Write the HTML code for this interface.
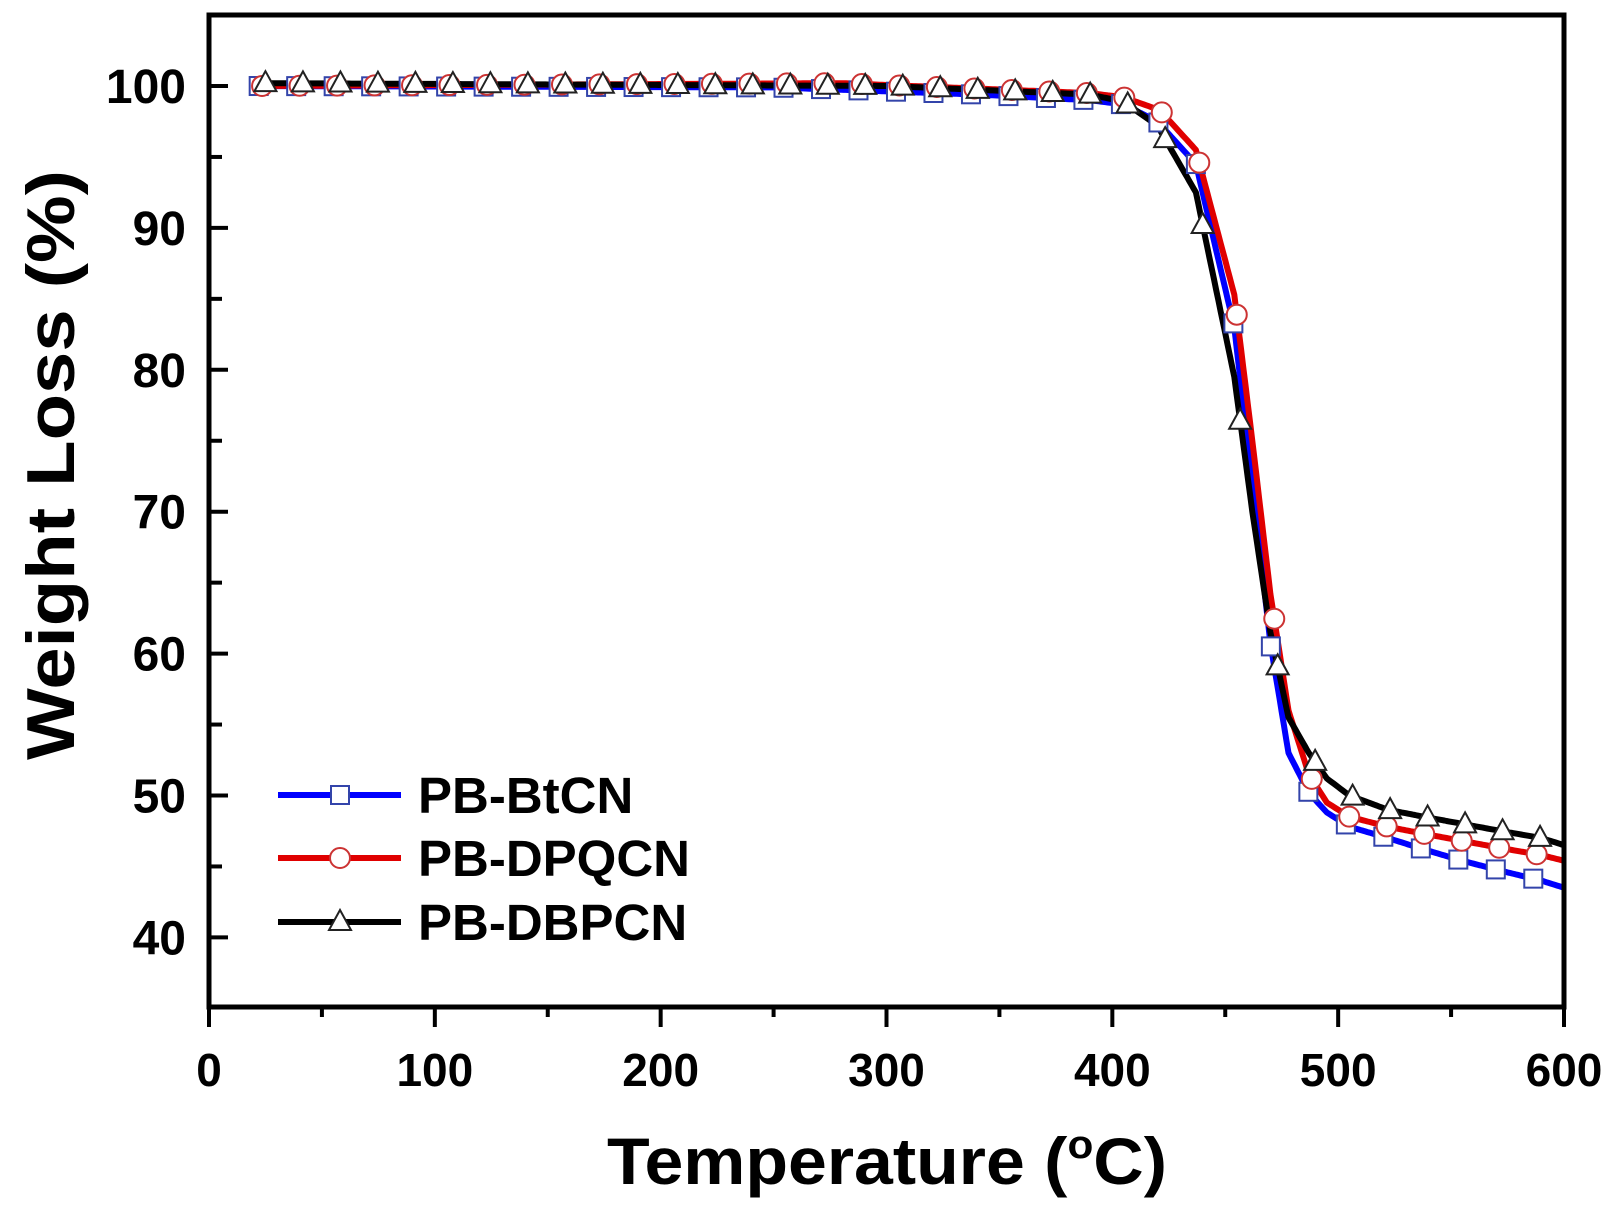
<!DOCTYPE html>
<html><head><meta charset="utf-8"><style>
html,body{margin:0;padding:0;background:#fff;}
svg{display:block;font-family:"Liberation Sans",Arial,sans-serif;font-weight:bold;}
</style></head><body>
<svg id="s" width="1609" height="1219" viewBox="0 0 1609 1219" xmlns="http://www.w3.org/2000/svg">
<rect width="1609" height="1219" fill="#fff"/>
<g id="data"></g>
<rect x="209" y="15" width="1355" height="992" fill="none" stroke="#000" stroke-width="5"/>
<g id="ticks" stroke="#000" stroke-width="4"></g>
<g font-size="48" text-anchor="end" id="ylab"></g>
<g font-size="46" text-anchor="middle" id="xlab"></g>
<text transform="translate(74,465) rotate(-90)" font-size="68" text-anchor="middle" textLength="590" lengthAdjust="spacingAndGlyphs">Weight Loss (%)</text>
<text x="607" y="1184" font-size="66" textLength="560" lengthAdjust="spacingAndGlyphs">Temperature (<tspan font-size="40" dy="-26">o</tspan><tspan dy="26">C)</tspan></text>
<g id="legend"></g>
</svg>
<script>
var ns="http://www.w3.org/2000/svg";
function X(t){return 209+t*1355/600;}
function Y(w){return 86+(100-w)*14.19;}
function el(tag,a,p){var e=document.createElementNS(ns,tag);for(var k in a)e.setAttribute(k,a[k]);p.appendChild(e);return e;}
var data=document.getElementById('data'),ticks=document.getElementById('ticks');
var series=[
{c:"#0000ff",m:"sq",p:[[20,100],[250,99.9],[340,99.4],[390,99],[405,98.7],[420,97.5],[437,94.5],[454,83],[462,72],[470,60.7],[478,53],[487,50.2],[495,48.8],[505,47.8],[522,47],[538,46.2],[555,45.4],[572,44.7],[590,44],[600,43.5]]},
{c:"#e00000",m:"ci",p:[[20,100],[280,100.2],[390,99.5],[405,99.2],[421,98.3],[437,95.5],[454,85.3],[462,75],[470,64.2],[478,56],[487,51.5],[495,49.5],[505,48.5],[522,47.8],[538,47.3],[555,46.8],[572,46.3],[590,45.8],[600,45.4]]},
{c:"#000000",m:"tr",p:[[25,100.2],[300,100],[390,99.4],[405,98.9],[420,97.2],[437,92.5],[454,79.5],[462,70],[470,61.5],[478,55.5],[487,53],[495,51.2],[505,50],[522,49],[538,48.5],[555,48],[572,47.5],[590,47],[600,46.5]]}];
function interp(p,t){for(var i=1;i<p.length;i++){if(t<=p[i][0]){var a=p[i-1],b=p[i];return a[1]+(b[1]-a[1])*(t-a[0])/(b[0]-a[0]);}}return p[p.length-1][1];}
function marker(type,x,y,c,g){
 if(type=="sq")el('rect',{x:x-9,y:y-9,width:18,height:18,fill:"#fff",stroke:"#3344aa","stroke-width":2},g);
 else if(type=="ci")el('circle',{cx:x,cy:y,r:10,fill:"#fff",stroke:"#cc3333","stroke-width":2},g);
 else el('polygon',{points:(x)+","+(y-12)+" "+(x-11)+","+(y+8)+" "+(x+11)+","+(y+8),fill:"#fff",stroke:"#222","stroke-width":2},g);
}
series.forEach(function(s,si){
 var pts=[];for(var t=s.p[0][0];t<=600;t+=1)pts.push(X(t).toFixed(1)+","+Y(interp(s.p,t)).toFixed(1));
 el('polyline',{points:pts.join(" "),fill:"none",stroke:s.c,"stroke-width":6,"stroke-linejoin":"round"},data);
});
series.forEach(function(s,si){
 for(var t=22+si*1.5;t<=596;t+=16.6)marker(s.m,X(t),Y(interp(s.p,t)),s.c,data);
});
for(var v=40;v<=100;v+=5){var y=Y(v);el('line',{x1:209,x2:v%10==0?228:222,y1:y,y2:y},ticks);}
for(var t=0;t<=600;t+=50){var x=X(t);el('line',{x1:x,x2:x,y1:1007,y2:t%100==0?1027:1017},ticks);}
var yl=document.getElementById('ylab');
for(var v=40;v<=100;v+=10){var e=el('text',{x:186,y:Y(v)+17},yl);e.textContent=v;}
var xl=document.getElementById('xlab');
for(var t=0;t<=600;t+=100){var e=el('text',{x:X(t),y:1086},xl);e.textContent=t;}
var lg=document.getElementById('legend');
var names=["PB-BtCN","PB-DPQCN","PB-DBPCN"],ly=[795,858,922];
series.forEach(function(s,i){
 el('line',{x1:278,x2:401,y1:ly[i],y2:ly[i],stroke:s.c,"stroke-width":6},lg);
 marker(s.m,340,ly[i],s.c,lg);
 var e=el('text',{x:418,y:ly[i]+18,"font-size":51},lg);e.textContent=names[i];
});
</script>
</body></html>
